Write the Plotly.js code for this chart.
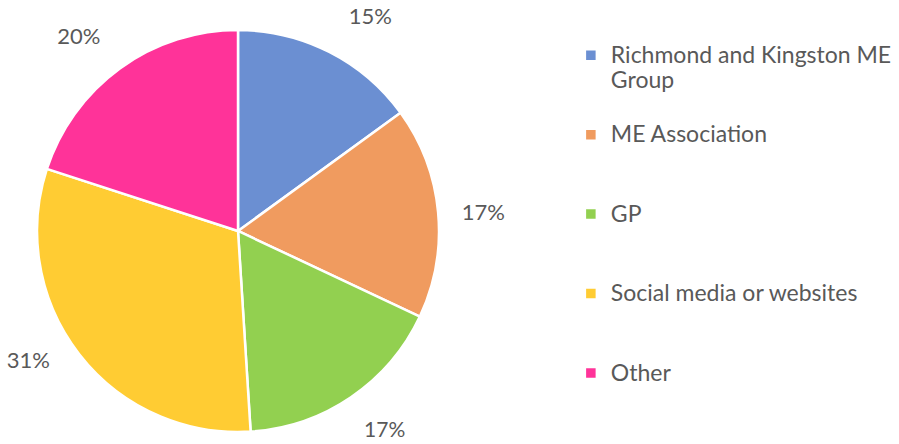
<!DOCTYPE html>
<html>
<head>
<meta charset="utf-8">
<script src="https://cdn.plot.ly/plotly-3.0.1.min.js"></script>
<style>html,body{margin:0;padding:0;background:#fff;}#chart{width:899px;height:444px;}</style>
</head>
<body>
<div id="chart"></div>
<script>
const categories = ["Richmond and Kingston ME Group", "ME Association", "GP", "Social media or websites", "Other"];
const legendLines = [["Richmond and Kingston ME", "Group"], ["ME Association"], ["GP"], ["Social media or websites"], ["Other"]];
const shares = [15, 17, 17, 31, 20];
const colors = ["#6B8FD2", "#F09B5F", "#92D050", "#FFCC33", "#FF3399"];

const NB = "\u00a0";
// pad each legend entry to three lines so entries are evenly spaced like the original
const labels = legendLines.map(l => {
  const lines = l.map(s => '<span style="font-size:23px">' + s + '</span>');
  while (lines.length < 3) lines.push(NB);
  return lines.join("<br>");
});

// spacing tweaks so the outside labels sit a little further from the rim, as in the original
const pct = "%{percent:.0%}";
const templates = [
  NB + pct + "<br>" + NB,
  NB + NB + NB + pct,
  NB + "<br>" + pct,
  pct + NB + NB + NB + NB,
  pct + NB + "<br>" + NB
];

const trace = {
  type: "pie",
  values: shares,
  labels: labels,
  customdata: categories,
  sort: false,
  direction: "clockwise",
  rotation: 0,
  marker: {colors: colors, line: {color: "#ffffff", width: 2.5}},
  textposition: "outside",
  texttemplate: templates,
  textfont: {family: "Lato, 'Noto Sans', sans-serif", size: [22, 22, 21, 22, 22], color: "#595959"},
  hoverinfo: "skip",
  domain: {x: [0.0412, 0.4883], y: [0.027, 0.9325]}
};

const layout = {
  width: 899,
  height: 444,
  margin: {l: 0, r: 0, t: 0, b: 0},
  paper_bgcolor: "#ffffff",
  showlegend: true,
  legend: {
    x: 0.635, y: 0.887, xanchor: "left", yanchor: "top",
    valign: "top",
    font: {family: "Lato, 'Noto Sans', sans-serif", size: 19.6, color: "#595959"},
    bgcolor: "rgba(0,0,0,0)"
  },
  font: {family: "Lato, 'Noto Sans', sans-serif"}
};

Plotly.newPlot("chart", [trace], layout, {staticPlot: true, displayModeBar: false});
</script>
</body>
</html>
